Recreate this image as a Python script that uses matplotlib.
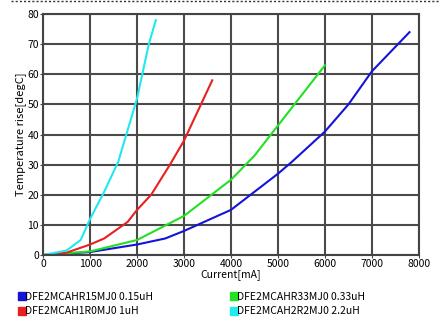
import matplotlib
matplotlib.use("Agg")
import matplotlib.pyplot as plt
from matplotlib.lines import Line2D

plt.rcParams['font.family'] = ['Noto Sans CJK JP', 'DejaVu Sans']

# data
blue_x = [0, 1000, 2000, 2600, 3000, 4000, 5000, 5300, 6000, 6500, 7000, 7800]
blue_y = [0, 1, 3.5, 5.5, 8, 15, 27, 31, 41, 50, 61, 74]
green_x = [0, 1000, 2000, 2500, 3000, 3500, 4000, 4500, 5000, 5500, 6000]
green_y = [0, 1.2, 5, 9, 13, 19, 25, 33, 43, 53, 63]
red_x = [0, 500, 1000, 1300, 1800, 2000, 2300, 2700, 3000, 3300, 3600]
red_y = [0, 0.8, 3.5, 5.5, 11, 15, 20, 30, 38, 48, 58]
cyan_x = [0, 500, 800, 1000, 1300, 1600, 2000, 2250, 2400]
cyan_y = [0, 1.5, 5, 12, 21, 31, 52, 70, 78]

names = ["DFE2MCAHR15MJ0 0.15uH", "DFE2MCAH1R0MJ0 1uH",
         "DFE2MCAHR33MJ0 0.33uH", "DFE2MCAH2R2MJ0 2.2uH"]
colors = ["#1414d8", "#e82020", "#22e022", "#22e8f0"]

fig = plt.figure(figsize=(4.4, 3.2), dpi=100)
ax = fig.add_axes([0.098, 0.203, 0.854, 0.753])

ax.plot(blue_x, blue_y, color=colors[0], lw=1.5)
ax.plot(green_x, green_y, color=colors[2], lw=1.5)
ax.plot(red_x, red_y, color=colors[1], lw=1.5)
ax.plot(cyan_x, cyan_y, color=colors[3], lw=1.5)

ax.set_xlim(0, 8000)
ax.set_ylim(0, 80)
ax.set_xticks(range(0, 8001, 1000))
ax.set_yticks(range(0, 81, 10))
ax.grid(True, color="#4a4a4a", lw=1.5)
ax.set_axisbelow(True)
for s in ax.spines.values():
    s.set_color("#444444")
    s.set_linewidth(1.5)
ax.tick_params(labelsize=7.5, length=2, pad=1, color="#444444")
ax.set_xlabel("Current[mA]", fontsize=7.5, labelpad=0)
ax.set_ylabel("Temperature rise[degC]", fontsize=8, labelpad=1)

handles = [Line2D([], [], marker="s", ls="", color=c, markersize=5.5) for c in colors]
fig.legend(handles, names, loc="lower left", bbox_to_anchor=(0.015, -0.018),
           ncol=2, frameon=False, fontsize=7.5, handletextpad=-0.3,
           columnspacing=7.1, labelspacing=0.45, handlelength=1.2)

# dotted border at the top of the picture
fig.add_artist(Line2D([0.025, 1.0], [0.998, 0.998], transform=fig.transFigure,
                      color="#333333", lw=1, ls=(0, (1.5, 1.5))))

fig.savefig("out.png", dpi=100)
